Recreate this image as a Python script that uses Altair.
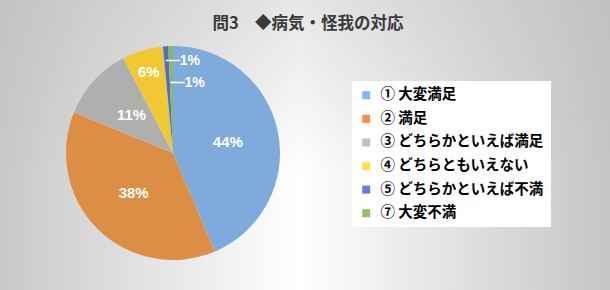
import altair as alt
import pandas as pd

# ---- data ----
categories = ["① 大変満足", "② 満足", "③ どちらかといえば満足",
              "④ どちらともいえない", "⑤ どちらかといえば不満", "⑦ 大変不満"]
shares = [43.6, 37.6, 11.1, 6.2, 0.8, 0.7]
slice_colors = ["#7FAADC", "#DD8E45", "#AFAFAF", "#F2C832", "#4A6DCB", "#8DB95C"]
legend_colors = ["#4A9BFF", "#FF5B00", "#A5A5A5", "#FFD400", "#1B48D6", "#62A81E"]
title_text = "問3　◆病気・怪我の対応"

# ---- layout (not data) ----
W, H = 610, 290
CX, CY, R = 173, 153, 107
label_r = [56, 56, 56, 85, 92, 70]

df = pd.DataFrame({"cat": categories, "share": shares,
                   "idx": list(range(len(categories))), "lr": label_r})

base = alt.Chart(df)

# background
bg_df = pd.DataFrame({"k": [0]})
bg_h = alt.Chart(bg_df).mark_rect(
    color=alt.LinearGradient(
        gradient="linear", x1=0, y1=0, x2=1, y2=0,
        stops=[alt.GradientStop(offset=0, color="#C8C8C8"),
               alt.GradientStop(offset=0.49, color="#FFFFFF"),
               alt.GradientStop(offset=1, color="#C5C5C5")])
).encode(x=alt.value(0), x2=alt.value(W), y=alt.value(0), y2=alt.value(H))
bg_v = alt.Chart(bg_df).mark_rect(
    color=alt.LinearGradient(
        gradient="linear", x1=0, y1=0, x2=0, y2=1,
        stops=[alt.GradientStop(offset=0, color="rgba(185,185,185,0.35)"),
               alt.GradientStop(offset=0.6, color="rgba(185,185,185,0)"),
               alt.GradientStop(offset=1, color="rgba(185,185,185,0)")])
).encode(x=alt.value(0), x2=alt.value(W), y=alt.value(0), y2=alt.value(H))

# glow around the pie
glow = alt.layer(*[
    alt.Chart(bg_df).mark_circle(color="white", opacity=op).encode(
        x=alt.value(CX), y=alt.value(CY), size=alt.value(3.14159 * r * r))
    for r, op in [(116, 0.18), (113, 0.35), (110, 0.7)]
])

arcs = base.mark_arc(outerRadius=R).encode(
    theta=alt.Theta("share:Q", stack=True),
    order=alt.Order("idx:Q"),
    color=alt.Color("cat:N", scale=alt.Scale(domain=categories, range=slice_colors),
                    legend=None),
    x=alt.value(CX), y=alt.value(CY),
)

# label positions derived from the cumulative shares
lab_base = base.transform_window(
    cum="sum(share)", sort=[alt.SortField("idx")], frame=[None, 0]
).transform_joinaggregate(
    total="sum(share)"
).transform_calculate(
    ang="(datum.cum - datum.share / 2) / datum.total * 2 * PI",
).transform_calculate(
    px=f"{CX} + datum.lr * sin(datum.ang)",
    py=f"{CY} - datum.lr * cos(datum.ang)",
)

big_labels = lab_base.transform_filter("datum.share >= 2").transform_calculate(
    lbl="format(datum.share / 100, '.0%')"
).mark_text(font="Liberation Sans", fontSize=15, fontWeight="bold", color="white",
            align="center", baseline="middle").encode(
    x=alt.X("px:Q", scale=None), y=alt.Y("py:Q", scale=None), text="lbl:N",
)

small_labels = lab_base.transform_filter("datum.share < 2").transform_calculate(
    lbl="'—' + format(datum.share / 100, '.0%')"
).mark_text(font="Liberation Sans", fontSize=14, fontWeight="bold", color="white",
            align="left", baseline="middle", dx=-1).encode(
    x=alt.X("px:Q", scale=None), y=alt.Y("py:Q", scale=None), text="lbl:N",
)

title = alt.Chart(pd.DataFrame({"t": [title_text]})).mark_text(
    font="Noto Sans CJK JP", fontSize=16.5, fontWeight="bold", color="#3A3A3A",
    align="center", baseline="middle",
).encode(x=alt.value(W / 2 + 3), y=alt.value(24), text="t:N")

legend_layer = base.transform_filter("datum.share < 0").mark_square().encode(
    color=alt.Color(
        "cat:N",
        scale=alt.Scale(domain=categories, range=legend_colors),
        legend=alt.Legend(
            title=None, orient="none", legendX=352, legendY=81,
            fillColor="white", padding=7, symbolType="square", symbolSize=64,
            symbolStrokeWidth=0, labelFont="Noto Sans CJK JP", labelFontSize=14.5,
            labelFontWeight="bold", labelColor="#000000", labelOffset=7,
            rowPadding=8.6, labelLimit=400,
        ),
    )
)

chart = alt.layer(
    bg_h, bg_v, glow, arcs, big_labels, small_labels, title, legend_layer
).resolve_scale(color="independent").properties(
    width=W, height=H,
    autosize=alt.AutoSizeParams(type="none"),
    padding=0,
).configure_view(stroke=None).configure(background="#D0D0D0")

chart.save("out.html", embed_options={"renderer": "svg", "actions": False})
